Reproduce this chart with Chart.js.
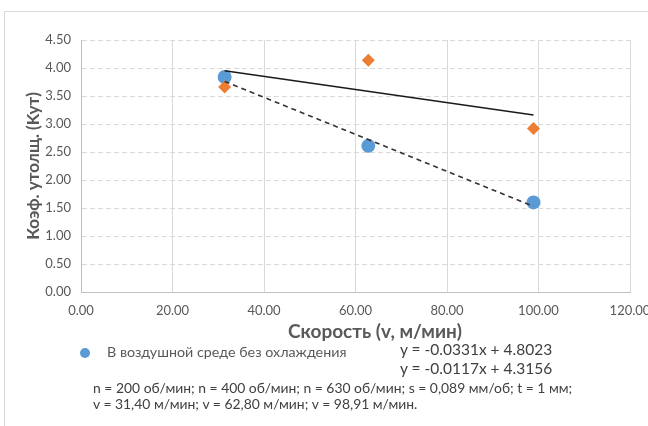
<!DOCTYPE html>
<html>
<head>
<meta charset="utf-8">
<script src="https://cdn.jsdelivr.net/npm/chart.js@4/dist/chart.umd.min.js"></script>
<style>
  html, body { margin: 0; padding: 0; background: #fff; }
  body { width: 648px; height: 426px; position: relative; overflow: hidden; font-family: Lato, "Open Sans", sans-serif; }
  #frame { position: absolute; left: 4px; top: 11px; width: 660px; height: 430px; border-left: 1px solid #d9d9d9; border-top: 1px solid #d9d9d9; box-sizing: border-box; }
  #wrap { position: absolute; left: 0; top: 0; width: 648px; height: 426px; }
  .txt { position: absolute; white-space: nowrap; line-height: 1; }
  #xtitle { left: 375px; top: 321px; transform: translateX(-50%); font-weight: bold; font-size: 19px; color: #595959; }
  #legdot { position: absolute; left: 80px; top: 348px; width: 10px; height: 10px; border-radius: 50%; background: #5b9bd5; }
  #legtxt { left: 107px; top: 345px; font-size: 14.3px; color: #595959; }
  #eq1 { left: 400px; top: 342px; font-size: 15.5px; color: #404040; }
  #eq2 { left: 400px; top: 361px; font-size: 15.5px; color: #404040; }
  #note1 { left: 93px; top: 381px; font-size: 13.9px; color: #404040; }
  #note2 { left: 93px; top: 397px; font-size: 13.9px; color: #404040; }
</style>
</head>
<body>
<div id="frame"></div>
<div id="wrap"><canvas id="c" width="648" height="426"></canvas></div>
<div class="txt" id="xtitle">Скорость (v, м/мин)</div>
<div id="legdot"></div>
<div class="txt" id="legtxt">В воздушной среде без охлаждения</div>
<div class="txt" id="eq1">y = -0.0331x + 4.8023</div>
<div class="txt" id="eq2">y = -0.0117x + 4.3156</div>
<div class="txt" id="note1">n = 200 об/мин; n = 400 об/мин; n = 630 об/мин; s = 0,089 мм/об; t = 1 мм;</div>
<div class="txt" id="note2">v = 31,40 м/мин; v = 62,80 м/мин; v = 98,91 м/мин.</div>
<script>
// ---- data ----
const speeds = [31.40, 62.80, 98.91];
const airValues = [3.84, 2.61, 1.60];          // В воздушной среде без охлаждения (blue)
const otherValues = [3.66, 4.14, 2.92];        // second series (orange)
const airTrendX = [31.40, 98.91];
const airTrendY = [3.76, 1.53];                // dashed trend (y = -0.0331x + 4.8023)
const otherTrendX = [31.40, 98.91];
const otherTrendY = [3.95, 3.16];              // solid trend (y = -0.0117x + 4.3156)
const legendLabel = 'В воздушной среде без охлаждения';
const yTitle = 'Коэф. утолщ. (Kyт)';

const pts = (xs, ys) => xs.map((x, i) => ({x: x, y: ys[i]}));

const fontFam = 'Lato, "Open Sans", sans-serif';

new Chart(document.getElementById('c'), {
  type: 'scatter',
  data: {
    datasets: [
      {
        type: 'line', label: 'trend2', data: pts(otherTrendX, otherTrendY),
        borderColor: '#1a1a1a', borderWidth: 1.6, pointRadius: 0, fill: false, order: 0
      },
      {
        type: 'line', label: 'trend1', data: pts(airTrendX, airTrendY),
        borderColor: '#333333', borderWidth: 1.6, borderDash: [5, 4], pointRadius: 0, fill: false, order: 0
      },
      {
        label: 'series2', data: pts(speeds, otherValues),
        pointStyle: 'rectRot', pointRadius: 6.5, backgroundColor: '#ed7d31', borderColor: '#ed7d31', borderWidth: 0, order: 1
      },
      {
        label: legendLabel, data: pts(speeds, airValues),
        pointStyle: 'circle', pointRadius: 7, backgroundColor: '#5b9bd5', borderColor: '#5b9bd5', borderWidth: 0, order: 2
      }
    ]
  },
  options: {
    responsive: false,
    animation: false,
    layout: { padding: { left: 19, top: 40, right: 18, bottom: 94 } },
    plugins: { legend: { display: false }, tooltip: { enabled: false } },
    scales: {
      x: {
        type: 'linear', min: 0, max: 120,
        afterFit: (s) => { s.height = 40; s.paddingRight = 0; s.paddingLeft = 0; },
        ticks: { stepSize: 20, padding: 11, color: '#595959', font: { family: fontFam, size: 13 }, callback: (v) => v.toFixed(2) },
        grid: { color: '#d9d9d9', lineWidth: 1, drawTicks: false },
        border: { color: '#bfbfbf', width: 1 }
      },
      y: {
        min: 0, max: 4.5,
        afterFit: (s) => { s.width = 62; s.paddingTop = 0; s.paddingBottom = 0; },
        ticks: { stepSize: 0.5, padding: 10, color: '#595959', font: { family: fontFam, size: 13 }, callback: (v) => v.toFixed(2) },
        grid: { color: '#d9d9d9', lineWidth: 1, drawTicks: false },
        border: { color: '#bfbfbf', width: 1, dash: [5, 3] },
        title: { display: true, text: yTitle, color: '#595959', font: { family: fontFam, size: 17, weight: 'bold' }, padding: { top: 4, bottom: 4 } }
      }
    }
  }
});
</script>
</body>
</html>
